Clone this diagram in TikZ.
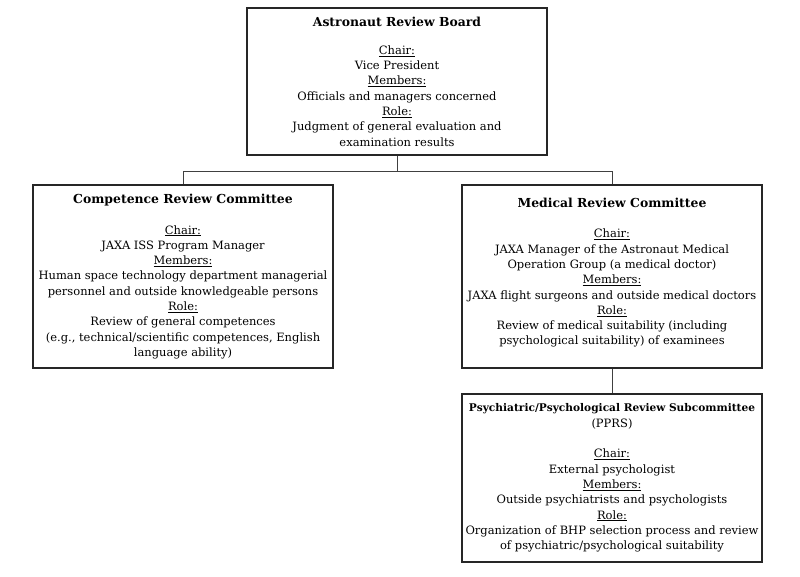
\documentclass[tikz,border=0pt]{standalone}
\usepackage{fontspec}
\setmainfont{DejaVu Serif}
\usetikzlibrary{calc}
\newcommand\hd[1]{\underline{#1}}
\newcommand\ttl[1]{{\fontsize{12.4}{15.3}\selectfont\bfseries #1}}
\begin{document}
\begin{tikzpicture}[x=1pt,y=1pt,
  box/.style={draw=black!85, line width=1.4pt, minimum width=300pt, inner sep=0pt,
    align=center, text=black, font=\fontsize{11.5}{15.3}\selectfont},
  link/.style={draw=black!75, line width=0.9pt}]
\useasboundingbox (0,0) rectangle (800,-576);
\node[box, minimum height=147pt] (arb) at (397,-81.5)
  {\ttl{Astronaut Review Board}\\[13pt]
   \hd{Chair:}\\ Vice President\\ \hd{Members:}\\ Officials and managers concerned\\
   \hd{Role:}\\ Judgment of general evaluation and\\ examination results};
\node[box, minimum height=183pt] (crc) at (183,-276.5)
  {\ttl{Competence Review Committee}\\[15.3pt]
   \hd{Chair:}\\ JAXA ISS Program Manager\\ \hd{Members:}\\
   Human space technology department managerial\\ personnel and outside knowledgeable persons\\
   \hd{Role:}\\ Review of general competences\\
   (e.g., technical/scientific competences, English\\ language ability)};
\node[box, minimum height=183pt] (mrc) at (612,-276.5)
  {\ttl{Medical Review Committee}\\[15.3pt]
   \hd{Chair:}\\ JAXA Manager of the Astronaut Medical\\ Operation Group (a medical doctor)\\
   \hd{Members:}\\ JAXA flight surgeons and outside medical doctors\\
   \hd{Role:}\\ Review of medical suitability (including\\ psychological suitability) of examinees\\[-5pt]{}};
\node[box, minimum height=168pt] (pprs) at (612,-478)
  {{\fontsize{10.6}{15.3}\selectfont\bfseries Psychiatric/Psychological Review Subcommittee}\\ (PPRS)\\[15.3pt]
   \hd{Chair:}\\ External psychologist\\ \hd{Members:}\\ Outside psychiatrists and psychologists\\
   \hd{Role:}\\ Organization of BHP selection process and review\\ of psychiatric/psychological suitability};
\coordinate (split) at ($(arb.south)+(0,-16)$);
\draw[link] (arb.south) -- (split) -| (crc.north);
\draw[link] (split) -| (mrc.north);
\draw[link] (mrc.south) -- (pprs.north);
\end{tikzpicture}
\end{document}
